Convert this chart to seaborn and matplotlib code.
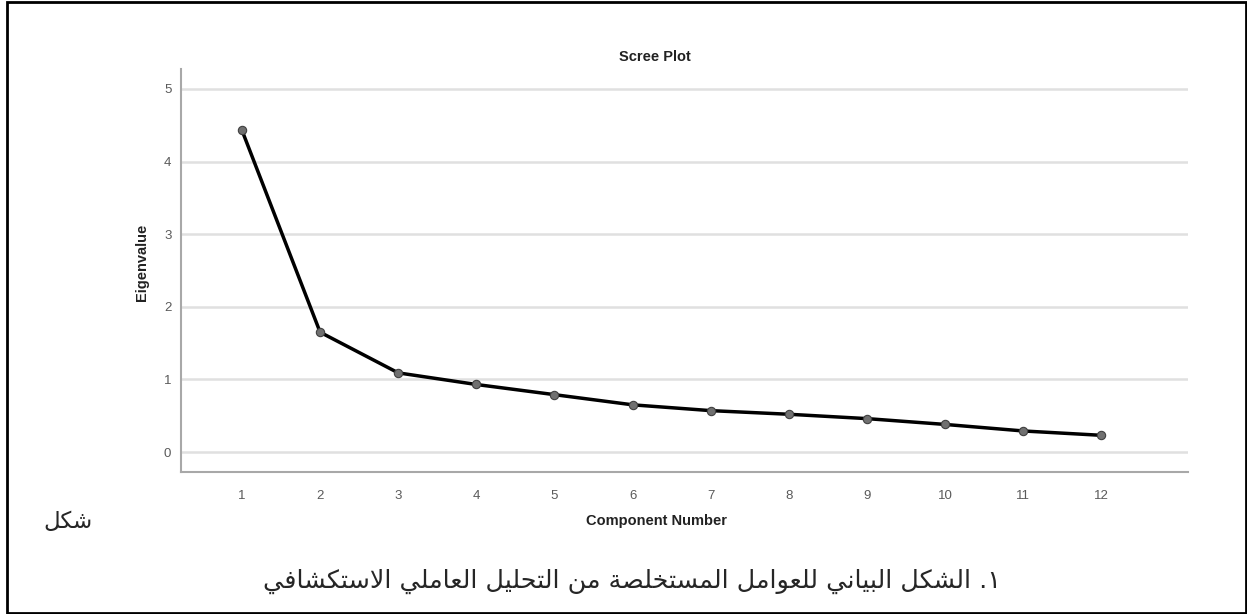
"""
Scree plot of the exploratory factor analysis eigenvalues (SPSS style)
"""
import pandas as pd
import seaborn as sns
import matplotlib.pyplot as plt
from matplotlib.patches import Rectangle

components = [1, 2, 3, 4, 5, 6, 7, 8, 9, 10, 11, 12]
eigenvalues = [4.43, 1.65, 1.09, 0.93, 0.79, 0.65, 0.57, 0.52, 0.46, 0.38, 0.29, 0.23]
y_ticks = [0, 1, 2, 3, 4, 5]

caption_word = 'شكل'
caption = '١. الشكل البياني للعوامل المستخلصة من التحليل العاملي الاستكشافي'

# matplotlib has no arabic shaping, so pick presentation forms by hand
# (isolated, final, initial, medial)
FORMS = {
    'ا': ('\ufe8d', '\ufe8e', None, None),
    'ب': ('\ufe8f', '\ufe90', '\ufe91', '\ufe92'),
    'ة': ('\ufe93', '\ufe94', None, None),
    'ت': ('\ufe95', '\ufe96', '\ufe97', '\ufe98'),
    'ح': ('\ufea1', '\ufea2', '\ufea3', '\ufea4'),
    'خ': ('\ufea5', '\ufea6', '\ufea7', '\ufea8'),
    'س': ('\ufeb1', '\ufeb2', '\ufeb3', '\ufeb4'),
    'ش': ('\ufeb5', '\ufeb6', '\ufeb7', '\ufeb8'),
    'ص': ('\ufeb9', '\ufeba', '\ufebb', '\ufebc'),
    'ع': ('\ufec9', '\ufeca', '\ufecb', '\ufecc'),
    'ف': ('\ufed1', '\ufed2', '\ufed3', '\ufed4'),
    'ك': ('\ufed9', '\ufeda', '\ufedb', '\ufedc'),
    'ل': ('\ufedd', '\ufede', '\ufedf', '\ufee0'),
    'م': ('\ufee1', '\ufee2', '\ufee3', '\ufee4'),
    'ن': ('\ufee5', '\ufee6', '\ufee7', '\ufee8'),
    'و': ('\ufeed', '\ufeee', None, None),
    'ي': ('\ufef1', '\ufef2', '\ufef3', '\ufef4'),
}


def shape(s):
    res = []
    i = 0
    while i < len(s):
        c = s[i]
        if c not in FORMS:
            res.append(c)
            i += 1
            continue
        prev = s[i - 1] if i > 0 else None
        jp = prev in FORMS and FORMS[prev][2] is not None
        if c == 'ل' and i + 1 < len(s) and s[i + 1] == 'ا':
            res.append('\ufefc' if jp else '\ufefb')
            i += 2
            continue
        nxt = s[i + 1] if i + 1 < len(s) else None
        jn = FORMS[c][2] is not None and nxt in FORMS
        iso, fin, ini, med = FORMS[c]
        if jp and jn:
            res.append(med)
        elif jp:
            res.append(fin)
        elif jn:
            res.append(ini)
        else:
            res.append(iso)
        i += 1
    return ''.join(reversed(res))


sns.set_style('white')
plt.rcParams['font.family'] = ['Liberation Sans', 'DejaVu Sans']

df = pd.DataFrame({'Component Number': components, 'Eigenvalue': eigenvalues})

fig = plt.figure(figsize=(12.47, 6.14), dpi=100)
ax = fig.add_axes([0.1452, 0.2313, 0.8075, 0.6563])

sns.lineplot(data=df, x='Component Number', y='Eigenvalue', ax=ax,
             color='black', linewidth=2.5, marker='o', markersize=6,
             markerfacecolor='#707070', markeredgecolor='#404040', markeredgewidth=0.8,
             zorder=3)

ax.set_xlim(0.22, 13.11)
ax.set_ylim(-0.275, 5.275)
ax.set_xticks(components)
ax.set_yticks(y_ticks)
ax.yaxis.grid(True, color='#e0e0e0', linewidth=1.8)
ax.set_axisbelow(True)
ax.tick_params(axis='both', length=0, colors='#5a5a5a', labelsize=9.5)
ax.tick_params(axis='x', pad=13)
ax.tick_params(axis='y', pad=7)

for side in ['top', 'right']:
    ax.spines[side].set_visible(False)
for side in ['left', 'bottom']:
    ax.spines[side].set_color('#a8a8a8')
    ax.spines[side].set_linewidth(1.5)

ax.set_xlabel('')
ax.set_ylabel('Eigenvalue', fontsize=10.5, fontweight='bold', color='#222222')
ax.yaxis.set_label_coords(-0.032, 0.521)

fig.text(655 / 1247, 1 - 57 / 614, 'Scree Plot', ha='center', va='center',
         fontsize=10.5, fontweight='bold', color='#222222')
fig.text(656 / 1247, 1 - 521 / 614, 'Component Number', ha='center', va='center',
         fontsize=10.5, fontweight='bold', color='#222222')

fig.text(68 / 1247, 1 - 521 / 614, shape(caption_word), ha='center', va='center',
         fontsize=16.5, family=['DejaVu Sans'])
fig.text(632 / 1247, 1 - 581 / 614, shape(caption), ha='center', va='center',
         fontsize=18.3, family=['DejaVu Sans'])

fig.add_artist(Rectangle((7 / 1247, 1.5 / 614), 1 - 8.5 / 1247, 1 - 3 / 614,
                         transform=fig.transFigure, fill=False,
                         edgecolor='black', linewidth=2))

fig.savefig('out.png', dpi=100)
